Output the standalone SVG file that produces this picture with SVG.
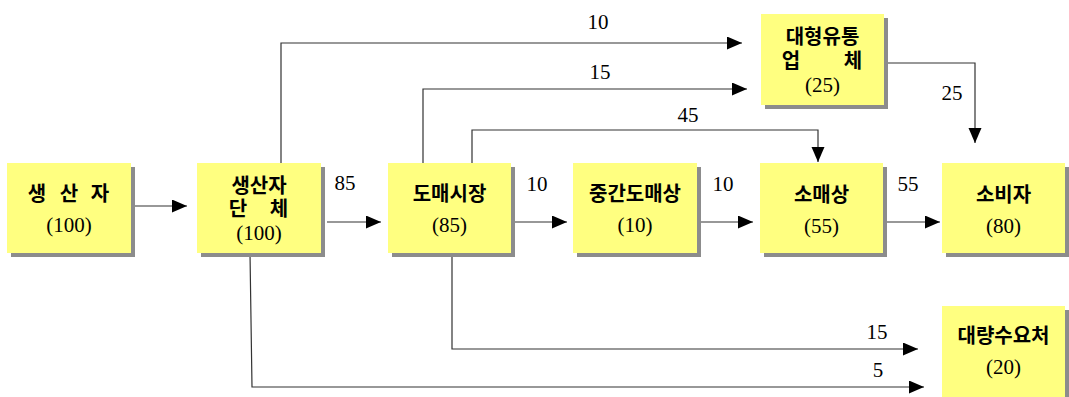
<svg xmlns="http://www.w3.org/2000/svg" width="1069" height="397" viewBox="0 0 1069 397">
<defs>
<marker id="ah" markerUnits="userSpaceOnUse" markerWidth="16" markerHeight="14" refX="15" refY="6.5" orient="auto">
<path d="M0,0 L15,6.5 L0,13 Z" fill="#000"/>
</marker>
</defs>
<style>
.sh{fill:#8c8c8c}
.bx{fill:#ffff80}
.ko{font-family:"Noto Sans CJK KR","Noto Sans",sans-serif;font-size:20px;font-weight:bold;fill:#000;text-anchor:middle}
.nu{font-family:"Liberation Serif",serif;font-size:21px;fill:#000;text-anchor:middle}
.lb{font-family:"Liberation Serif",serif;font-size:21px;fill:#000;text-anchor:middle}
.ln{fill:none;stroke:#333;stroke-width:1.2}
.ar{marker-end:url(#ah)}
</style>
<rect width="1069" height="397" fill="#fff"/>
<g id="connectors">
<path class="ln ar" d="M133,206 H187"/>
<path class="ln ar" d="M327,222 H381"/>
<path class="ln ar" d="M512,222 H567"/>
<path class="ln ar" d="M699,222 H753"/>
<path class="ln ar" d="M887,222 H940"/>
<path class="ln ar" d="M281,163 V43 H742"/>
<path class="ln ar" d="M423,163 V89 H747"/>
<path class="ln ar" d="M472,163 V130 H818 V162"/>
<path class="ln ar" d="M886,63 H975 V143"/>
<path class="ln ar" d="M452,253 V349 H918"/>
<path class="ln ar" d="M250,253 L252,387 H924"/>
<text class="lb" x="345" y="190">85</text>
<text class="lb" x="537" y="191">10</text>
<text class="lb" x="723" y="191">10</text>
<text class="lb" x="908" y="191">55</text>
<text class="lb" x="598" y="29">10</text>
<text class="lb" x="600" y="79">15</text>
<text class="lb" x="688" y="122">45</text>
<text class="lb" x="952" y="100">25</text>
<text class="lb" x="877" y="339">15</text>
<text class="lb" x="878" y="377">5</text>
</g>
<g id="producer">
<rect class="sh" x="11" y="167" width="124" height="90"/>
<rect class="bx" x="7" y="163" width="124" height="90"/>
<text class="ko" x="37" y="201">생</text>
<text class="ko" x="69" y="201">산</text>
<text class="ko" x="100" y="201">자</text>
<text class="nu" x="69" y="232">(100)</text>
</g>
<g id="producer-group">
<rect class="sh" x="201" y="167" width="124" height="90"/>
<rect class="bx" x="197" y="163" width="124" height="90"/>
<text class="ko" x="259" y="193">생산자</text>
<text class="ko" x="238" y="216">단</text>
<text class="ko" x="279" y="216">체</text>
<text class="nu" x="259" y="240">(100)</text>
</g>
<g id="wholesale-market">
<rect class="sh" x="392" y="167" width="123" height="90"/>
<rect class="bx" x="388" y="163" width="123" height="90"/>
<text class="ko" x="449.5" y="201">도매시장</text>
<text class="nu" x="449.5" y="232">(85)</text>
</g>
<g id="middle-wholesaler">
<rect class="sh" x="577" y="167" width="124" height="90"/>
<rect class="bx" x="573" y="163" width="124" height="90"/>
<text class="ko" x="635" y="201">중간도매상</text>
<text class="nu" x="635" y="232">(10)</text>
</g>
<g id="retailer">
<rect class="sh" x="764" y="167" width="123" height="90"/>
<rect class="bx" x="760" y="163" width="123" height="90"/>
<text class="ko" x="821.5" y="202">소매상</text>
<text class="nu" x="821.5" y="233">(55)</text>
</g>
<g id="consumer">
<rect class="sh" x="946" y="167" width="123" height="90"/>
<rect class="bx" x="942" y="163" width="123" height="90"/>
<text class="ko" x="1003.5" y="202">소비자</text>
<text class="nu" x="1003.5" y="233">(80)</text>
</g>
<g id="large-distributor">
<rect class="sh" x="765" y="18" width="123" height="91"/>
<rect class="bx" x="761" y="14" width="123" height="91"/>
<text class="ko" x="822.5" y="44">대형유통</text>
<text class="ko" x="791" y="68">업</text>
<text class="ko" x="853" y="68">체</text>
<text class="nu" x="822.5" y="92">(25)</text>
</g>
<g id="bulk-buyer">
<rect class="sh" x="946" y="310" width="123" height="91"/>
<rect class="bx" x="942" y="306" width="123" height="91"/>
<text class="ko" x="1003.5" y="343">대량수요처</text>
<text class="nu" x="1003.5" y="374">(20)</text>
</g>
</svg>
